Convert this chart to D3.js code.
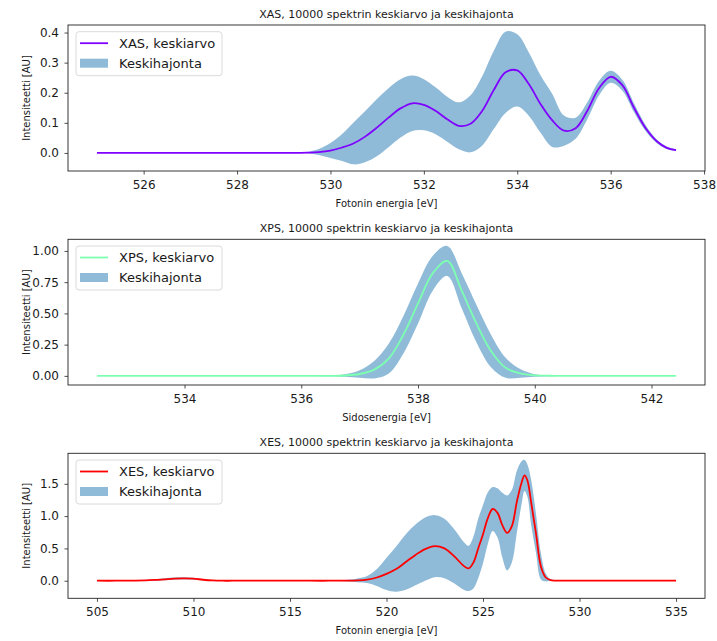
<!DOCTYPE html>
<html>
<head>
<meta charset="utf-8">
<script src="https://cdn.jsdelivr.net/npm/d3@7"></script>
<style>
body { margin: 0; background: #fff; }
text { font-family: "DejaVu Sans", sans-serif; fill: #1a1a1a; }
</style>
</head>
<body>
<div id="canvas"></div>
<script>
// ----------------------------------------------------------
// DATA -----------------------------------------------------
// ----------------------------------------------------------

// XAS: photon energy [eV], mean and standard deviation
var xas_energy = [525, 526, 527, 528, 529, 529.25, 529.5, 529.75, 530, 530.25, 530.5, 530.75, 531, 531.25, 531.5, 531.75, 532, 532.25, 532.5, 532.75, 533, 533.25, 533.5, 533.75, 534, 534.25, 534.5, 534.75, 535, 535.25, 535.5, 535.75, 536, 536.25, 536.5, 536.75, 537, 537.2, 537.4];
var xas_mean = [0, 0, 0, 0, 0, 0, 0.001, 0.003, 0.008, 0.018, 0.032, 0.055, 0.085, 0.118, 0.148, 0.165, 0.16, 0.14, 0.112, 0.09, 0.097, 0.14, 0.21, 0.268, 0.274, 0.228, 0.162, 0.108, 0.074, 0.082, 0.14, 0.215, 0.253, 0.225, 0.15, 0.082, 0.037, 0.017, 0.009];
var xas_std = [0, 0, 0, 0, 0, 0.0005, 0.002, 0.01, 0.025, 0.045, 0.07, 0.085, 0.095, 0.098, 0.097, 0.092, 0.085, 0.078, 0.075, 0.078, 0.095, 0.115, 0.13, 0.135, 0.12, 0.105, 0.095, 0.088, 0.05, 0.035, 0.028, 0.024, 0.02, 0.018, 0.015, 0.01, 0.006, 0.004, 0.003];

// XPS: binding energy [eV], mean and standard deviation
var xps_energy = [532.5, 533, 534, 535, 536, 536.5, 536.75, 537, 537.25, 537.5, 537.75, 538, 538.25, 538.5, 538.75, 539, 539.25, 539.5, 539.75, 540, 540.25, 540.5, 541, 542, 542.42];
var xps_mean = [0, 0, 0, 0, 0, 0, 0.003, 0.015, 0.05, 0.14, 0.33, 0.58, 0.82, 0.92, 0.68, 0.42, 0.2, 0.065, 0.02, 0.004, 0.001, 0, 0, 0, 0];
var xps_std = [0, 0, 0, 0, 0, 0.002, 0.01, 0.03, 0.07, 0.12, 0.15, 0.16, 0.14, 0.12, 0.14, 0.15, 0.13, 0.08, 0.035, 0.01, 0.003, 0, 0, 0, 0];

// XES: photon energy [eV], mean and standard deviation
var xes_energy = [505, 506, 507, 507.5, 508, 508.5, 509, 509.5, 510, 510.5, 511, 511.5, 512, 514, 516, 517, 518, 518.5, 519, 519.5, 520, 520.5, 521, 521.5, 522, 522.5, 523, 523.5, 524, 524.25, 524.5, 524.75, 525, 525.25, 525.5, 525.75, 526, 526.25, 526.5, 526.75, 527, 527.15, 527.3, 527.5, 527.75, 528, 528.25, 528.5, 528.75, 529, 530, 532, 535];
var xes_mean = [0, 0, 0.002, 0.005, 0.012, 0.022, 0.032, 0.037, 0.032, 0.015, 0.004, 0, 0, 0, 0, 0, 0.002, 0.006, 0.018, 0.05, 0.105, 0.18, 0.29, 0.4, 0.49, 0.535, 0.5, 0.38, 0.23, 0.19, 0.28, 0.5, 0.72, 0.97, 1.11, 1.05, 0.86, 0.74, 0.85, 1.22, 1.52, 1.63, 1.55, 1.2, 0.72, 0.22, 0.05, 0.01, 0.002, 0, 0, 0, 0];
var xes_std = [0, 0, 0.002, 0.006, 0.012, 0.016, 0.018, 0.018, 0.015, 0.008, 0.003, 0, 0, 0, 0, 0.002, 0.015, 0.03, 0.055, 0.13, 0.25, 0.35, 0.43, 0.47, 0.49, 0.48, 0.46, 0.42, 0.37, 0.35, 0.4, 0.46, 0.45, 0.4, 0.34, 0.38, 0.5, 0.58, 0.56, 0.48, 0.33, 0.24, 0.25, 0.35, 0.3, 0.2, 0.06, 0.012, 0.003, 0, 0, 0, 0];

// tick labels
var xas_xticks = [526, 528, 530, 532, 534, 536, 538];
var xas_yticks = [0.0, 0.1, 0.2, 0.3, 0.4];
var xps_xticks = [534, 536, 538, 540, 542];
var xps_yticks = [0.00, 0.25, 0.50, 0.75, 1.00];
var xes_xticks = [505, 510, 515, 520, 525, 530, 535];
var xes_yticks = [0.0, 0.5, 1.0, 1.5];

// texts
var titles = ["XAS, 10000 spektrin keskiarvo ja keskihajonta", "XPS, 10000 spektrin keskiarvo ja keskihajonta", "XES, 10000 spektrin keskiarvo ja keskihajonta"];
var x_labels = ["Fotonin energia [eV]", "Sidosenergia [eV]", "Fotonin energia [eV]"];
var legend_labels = ["XAS, keskiarvo", "XPS, keskiarvo", "XES, keskiarvo"];
var band_label = "Keskihajonta";
var y_label = "Intensiteetti [AU]";


// ----------------------------------------------------------
// STRUCTURE ------------------------------------------------
// ----------------------------------------------------------

var container_width = 717;
var container_height = 641;
var plot_left = 68;
var plot_right = 705;

var panels = [
{ energy: xas_energy, mean: xas_mean, std: xas_std, xticks: xas_xticks, yticks: xas_yticks, yfmt: ".1f", color: "#8000ff", top: 25, bottom: 171 },
{ energy: xps_energy, mean: xps_mean, std: xps_std, xticks: xps_xticks, yticks: xps_yticks, yfmt: ".2f", color: "#7dffb0", top: 239.3, bottom: 385 },
{ energy: xes_energy, mean: xes_mean, std: xes_std, xticks: xes_xticks, yticks: xes_yticks, yfmt: ".1f", color: "#ff0000", top: 453.3, bottom: 598.3 }
];

var container = d3.select("#canvas").append("svg")
.attr("width", container_width)
.attr("height", container_height)
.style("background-color", "#fff");


// ----------------------------------------------------------
// GFX ------------------------------------------------------
// ----------------------------------------------------------

// matplotlib style 5% margins
function padded(lo, hi) {
  var d = (hi - lo) * 0.05;
  return [lo - d, hi + d];
}

var curve = d3.curveCatmullRom.alpha(0.5);

panels.forEach(function(p, i) {

  var rows = p.energy.map(function(e, k) {
    return { e: e, m: p.mean[k], s: p.std[k] };
  });

  var xScale = d3.scaleLinear()
  .domain(padded(d3.min(p.energy), d3.max(p.energy)))
  .range([plot_left, plot_right]);

  var yScale = d3.scaleLinear()
  .domain(padded(d3.min(rows, (r) => r.m - r.s), d3.max(rows, (r) => r.m + r.s)))
  .range([p.bottom, p.top]);

  var g = container.append("g").attr("class", "panel_" + i);

  // band
  var area = d3.area()
  .x((r) => xScale(r.e))
  .y0((r) => yScale(r.m - r.s))
  .y1((r) => yScale(r.m + r.s))
  .curve(curve);

  g.append("path")
  .datum(rows)
  .attr("d", area)
  .style("fill", "#1f77b4")
  .style("fill-opacity", 0.5);

  // mean line
  var line = d3.line()
  .x((r) => xScale(r.e))
  .y((r) => yScale(r.m))
  .curve(curve);

  g.append("path")
  .datum(rows)
  .attr("d", line)
  .style("fill", "none")
  .style("stroke", p.color)
  .style("stroke-width", 1.8);

  // axes
  var xAxis = g.append("g")
  .attr("transform", `translate(0, ${p.bottom})`)
  .call(d3.axisBottom(xScale).tickValues(p.xticks).tickFormat(d3.format("d")).tickSize(3.5).tickPadding(6));

  var yAxis = g.append("g")
  .attr("transform", `translate(${plot_left}, 0)`)
  .call(d3.axisLeft(yScale).tickValues(p.yticks).tickFormat(d3.format(p.yfmt)).tickSize(3.5).tickPadding(5.5));

  [xAxis, yAxis].forEach(function(a) {
    a.select(".domain").remove();
    a.selectAll("line").style("stroke", "#222").style("stroke-width", 0.8);
    a.selectAll("text").style("font-size", "12px").style("fill", "#1a1a1a");
  });

  // frame
  g.append("rect")
  .attr("x", plot_left)
  .attr("y", p.top)
  .attr("width", plot_right - plot_left)
  .attr("height", p.bottom - p.top)
  .style("fill", "none")
  .style("stroke", "#222")
  .style("stroke-width", 0.9);

  // title
  g.append("text")
  .attr("x", (plot_left + plot_right) / 2)
  .attr("y", p.top - 7)
  .attr("text-anchor", "middle")
  .style("font-size", "11px")
  .text(titles[i]);

  // x label
  g.append("text")
  .attr("x", (plot_left + plot_right) / 2)
  .attr("y", p.bottom + 35.5)
  .attr("text-anchor", "middle")
  .style("font-size", "10px")
  .text(x_labels[i]);

  // y label
  g.append("text")
  .attr("transform", `translate(30, ${(p.top + p.bottom) / 2}) rotate(-90)`)
  .attr("text-anchor", "middle")
  .style("font-size", "10px")
  .text(y_label);

  // legend
  var lg = g.append("g")
  .attr("transform", `translate(76, ${p.top + 6.7})`);

  lg.append("rect")
  .attr("width", 146)
  .attr("height", 44)
  .attr("rx", 3)
  .style("fill", "#fff")
  .style("fill-opacity", 0.8)
  .style("stroke", "#d0d0d0")
  .style("stroke-width", 0.8);

  lg.append("line")
  .attr("x1", 4).attr("x2", 32)
  .attr("y1", 11.5).attr("y2", 11.5)
  .style("stroke", p.color)
  .style("stroke-width", 1.8);

  lg.append("rect")
  .attr("x", 4).attr("y", 27)
  .attr("width", 28).attr("height", 9)
  .style("fill", "#1f77b4")
  .style("fill-opacity", 0.5);

  lg.append("text")
  .attr("x", 43).attr("y", 11.5)
  .attr("dy", "0.35em")
  .style("font-size", "13px")
  .text(legend_labels[i]);

  lg.append("text")
  .attr("x", 43).attr("y", 31.5)
  .attr("dy", "0.35em")
  .style("font-size", "13px")
  .text(band_label);
});
</script>
</body>
</html>
